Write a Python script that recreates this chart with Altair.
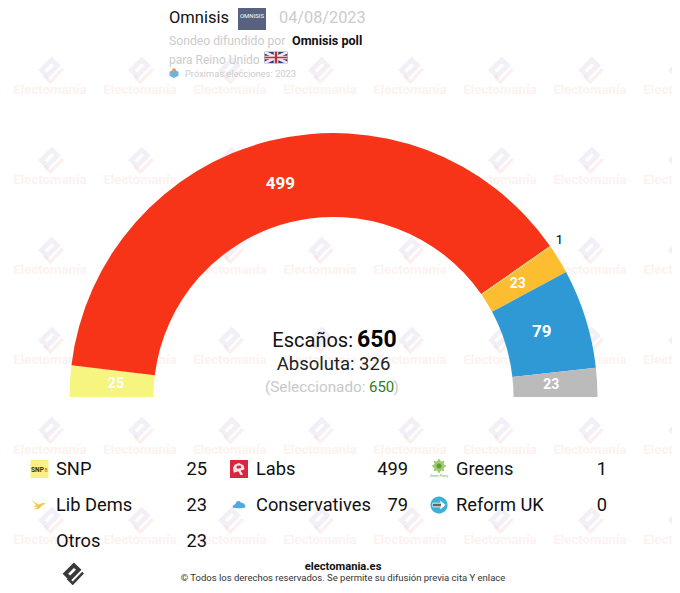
import math
import altair as alt
import pandas as pd

# --- chart values ---
arc_parties = ["SNP", "Labs", "Greens", "Lib Dems", "Conservatives", "Otros"]
arc_seats = [25, 499, 1, 23, 79, 23]
arc_colors = ["#F6F57F", "#F73418", "#A8D060", "#FDBD30", "#2F99D6", "#BBBBBB"]
legend_rows = [
    ["SNP", "Labs", "Greens"],
    ["Lib Dems", "Conservatives", "Reform UK"],
    ["Otros"],
]
legend_values = {"SNP": 25, "Labs": 499, "Greens": 1, "Lib Dems": 23,
                 "Conservatives": 79, "Reform UK": 0, "Otros": 23}
total_seats = 650
majority = 326

# --- layout / style ---
W, H = 664, 577
XS = alt.Scale(domain=[8, 8 + W], range=[0, W])
YS = alt.Scale(domain=[8, 8 + H], range=[0, H])
CX, CY, R_OUT, R_IN = 333.5, 397, 264, 180
FONT = "Roboto"
label_style = {  # radius, size
    "SNP": (218, 14), "Labs": (220, 17), "Greens": (275, 13),
    "Lib Dems": (216, 14), "Conservatives": (218, 17), "Otros": (218, 14),
}


def pos(x="x", y="y"):
    return dict(x=alt.X(f"{x}:Q", scale=XS, axis=None), y=alt.Y(f"{y}:Q", scale=YS, axis=None))


def shape(points, path, w, color, opacity=1.0):
    df = pd.DataFrame(points, columns=["x", "y"])
    return alt.Chart(df).mark_point(shape=path, filled=True, size=w * w, color=color,
                                    opacity=opacity, strokeWidth=0).encode(**pos())


def text(x, y, s, size=12, color="#000000", align="left", weight="normal", opacity=1.0):
    df = pd.DataFrame({"x": [x], "y": [y], "t": [s]})
    return alt.Chart(df).mark_text(font=FONT, fontSize=size, color=color, align=align, baseline="middle",
                                   fontWeight=weight, opacity=opacity).encode(text="t:N", **pos())


SQUARE = "M-1,-1L1,-1L1,1L-1,1Z"
CIRCLE = "M-1,0A1,1 0 1,1 1,0A1,1 0 1,1 -1,0Z"
LOGO_BODY = ("M0.12,-1L0.78,-0.36L-0.2,0.62L-0.86,-0.02Z"
             "M0.12,-0.52L-0.38,-0.02L-0.2,0.14L0.3,-0.36Z")
LOGO_TICK = "M0.84,-0.2L1,-0.04L0.02,0.98L-0.5,0.46L-0.34,0.3L0.02,0.66Z"
CLOUD = ("M-1,0.35C-1,0.05 -0.7,-0.05 -0.55,-0.1C-0.5,-0.6 0.05,-0.8 0.3,-0.35"
         "C0.7,-0.4 1,-0.05 1,0.35C0.5,0.55 -0.5,0.55 -1,0.35Z")
BIRD = ("M-1,-0.7L-0.1,-0.05L0.5,-0.3L1,-0.2L0.45,0.05L0.05,0.5L-0.75,0.65L-0.2,0.25L-0.9,0.2L-0.4,0.05Z")
BURST = "M0,-1L0.28,-0.6L0.71,-0.71L0.6,-0.28L1,0L0.6,0.28L0.71,0.71L0.28,0.6L0,1L-0.28,0.6L-0.71,0.71L-0.6,0.28L-1,0L-0.6,-0.28L-0.71,-0.71L-0.28,-0.6Z"
ROSE = "M0,-0.75L0.6,-0.45L0.75,0.1L0.2,0.3L0.55,0.8L0.2,0.85L-0.1,0.35L-0.7,0.55L-0.8,-0.1L-0.55,-0.55Z"
ROSE_IN = "M-0.3,-0.35L0.25,-0.4L0.35,-0.05L-0.1,0.1L-0.4,0Z"
BOX = "M-1,-0.4L0,-0.9L1,-0.4L1,0.5L0,1L-1,0.5Z"

layers = []

# --- watermark ---
cols = [50 + 90 * i for i in range(8)]
rows = [90 + 90 * i for i in range(6)]
wm_text = pd.DataFrame([{"x": c, "y": r, "t": "Electomanía"} for c in cols for r in rows])
layers.append(alt.Chart(wm_text).mark_text(font=FONT, fontSize=13.2, fontWeight="bold", color="#F9DAD2",
                                           opacity=0.34, baseline="middle").encode(text="t:N", **pos()))
wm_pts = [(c, r - 19.5) for c in cols for r in rows]
layers.append(shape(wm_pts, LOGO_BODY, 28, "#D9D2E6", 0.34))
layers.append(shape(wm_pts, LOGO_TICK, 28, "#F4CFD2", 0.34))

# --- hemicycle ---
cum = 0
mids = []
for s in arc_seats:
    mids.append(cum + s / 2)
    cum += s
arc_df = pd.DataFrame({"party": arc_parties, "seats": arc_seats, "color": arc_colors,
                       "idx": range(len(arc_seats)), "mid": mids})
arc_df["label_r"] = [label_style[p][0] for p in arc_parties]
arc_df["label_s"] = [label_style[p][1] for p in arc_parties]
tscale = alt.Scale(domain=[0, total_seats], range=[-math.pi / 2, math.pi / 2])
center = dict(x=alt.value(CX - 8), y=alt.value(CY - 8))
layers.append(alt.Chart(arc_df).mark_arc(radius=R_OUT, radius2=R_IN).encode(
    theta=alt.Theta("seats:Q", stack=True, scale=tscale), order=alt.Order("idx:Q"),
    color=alt.Color("color:N", scale=None), **center))
layers.append(alt.Chart(arc_df[arc_df.party != "Greens"]).mark_text(
    font=FONT, fontWeight="bold", baseline="middle", color="#FFFFFF").encode(
    theta=alt.Theta("mid:Q", stack=False, scale=tscale), radius=alt.Radius("label_r:Q", scale=None),
    text=alt.Text("seats:Q"), size=alt.Size("label_s:Q", scale=None), **center))
layers.append(alt.Chart(arc_df[arc_df.party == "Greens"]).mark_text(
    font=FONT, baseline="middle", color="#000000").encode(
    theta=alt.Theta("mid:Q", stack=False, scale=tscale), radius=alt.Radius("label_r:Q", scale=None),
    text=alt.Text("seats:Q"), size=alt.Size("label_s:Q", scale=None), **center))

# --- centre text ---
layers += [
    text(353, 341, "Escaños:", 20, "#111111", "right"),
    text(357, 340, str(total_seats), 23, "#000000", "left", "bold"),
    text(333.5, 364, f"Absoluta: {majority}", 18.5, "#222222", "center"),
    text(365.5, 387, "(Seleccionado:", 15.3, "#C8C8C8", "right"),
    text(369, 387, str(total_seats), 15, "#2E7D1E"),
    text(393.5, 387, ")", 15, "#C8C8C8"),
]

# --- header ---
layers += [
    text(169, 18, "Omnisis", 16.5, "#111111"),
    shape([(252, 16)], SQUARE, 28, "#56627F"),
    text(252, 16, "OMNISIS", 6, "#FFFFFF", "center"),
    text(279, 18, "04/08/2023", 16.3, "#CCCCCC"),
    text(169, 41, "Sondeo difundido por", 12.2, "#CCCCCC"),
    text(292, 41, "Omnisis poll", 12.6, "#111111", weight="bold"),
    text(169, 60, "para Reino Unido", 12, "#CCCCCC"),
    shape([(276, 57.5)], "M-1,-0.5L1,-0.5L1,0.5L-1,0.5Z", 23, "#2A3F7D"),
    shape([(276, 57.5)], "M-1,-0.5L-0.75,-0.5L1,0.35L1,0.5L0.75,0.5L-1,-0.35Z", 23, "#F2E9E9"),
    shape([(276, 57.5)], "M1,-0.5L0.75,-0.5L-1,0.35L-1,0.5L-0.75,0.5L1,-0.35Z", 23, "#F2E9E9"),
    shape([(276, 57.5)], "M-0.2,-0.5L0.2,-0.5L0.2,-0.15L1,-0.15L1,0.15L0.2,0.15L0.2,0.5L-0.2,0.5L-0.2,0.15L-1,0.15L-1,-0.15L-0.2,-0.15Z", 23, "#F2E9E9"),
    shape([(276, 57.5)], "M-0.1,-0.5L0.1,-0.5L0.1,-0.07L1,-0.07L1,0.07L0.1,0.07L0.1,0.5L-0.1,0.5L-0.1,0.07L-1,0.07L-1,-0.07L-0.1,-0.07Z", 23, "#C8283C"),
    shape([(174, 73.5)], BOX, 9, "#6FB3DA"),
    shape([(174, 70)], CIRCLE, 3.5, "#F0913A"),
    text(185, 73.5, "Próximas elecciones: 2023", 9.3, "#CCCCCC"),
]

# --- legend ---
col_name = [56, 256, 456]
col_val = [207, 408, 607]
row_y = [470, 506, 542]
for r, names in enumerate(legend_rows):
    for c, name in enumerate(names):
        layers.append(text(col_name[c], row_y[r], name, 18.3, "#111111"))
        layers.append(text(col_val[c], row_y[r], str(legend_values[name]), 18.3, "#111111", "right"))

layers += [
    shape([(39.5, 469)], SQUARE, 18, "#FBF082"),
    text(37.5, 469.5, "SNP", 6.5, "#333300", "center", "bold"),
    text(46, 469.5, "8", 6, "#777755", "center"),
    shape([(239, 469)], SQUARE, 18, "#D9253F"),
    shape([(239, 468.5)], ROSE, 15, "#FBE4E6"),
    shape([(239, 468)], ROSE_IN, 13, "#D9253F"),
    shape([(439, 466)], BURST, 15, "#9CCB6A"),
    shape([(439, 466)], CIRCLE, 5, "#5E9A3A"),
    text(439, 476, "Green Party", 3.5, "#5FAF4A", "center"),
    shape([(39, 505)], BIRD, 14, "#F9C24A"),
    shape([(239, 505)], CLOUD, 13, "#4FA8E0"),
    shape([(439, 505)], CIRCLE, 17, "#3BB0D8"),
    shape([(439, 505)], "M-1,-0.35L0.2,-0.35L0.2,-0.7L1,0L0.2,0.7L0.2,0.35L-1,0.35Z", 13, "#FFFFFF"),
    shape([(437, 505)], "M-1,-0.35L1,-0.35L1,0.35L-1,0.35Z", 8, "#666666"),
]

# --- footer ---
layers += [
    shape([(72.5, 574)], LOGO_BODY, 23, "#3A3A3A"),
    shape([(72.5, 574)], LOGO_TICK, 23, "#3A3A3A"),
    text(343, 566.5, "electomania.es", 11.2, "#111111", "center", "bold"),
    text(343, 577.5, "© Todos los derechos reservados. Se permite su difusión previa cita Y enlace", 9.5, "#333333", "center"),
]

chart = alt.layer(*layers).resolve_scale(color="independent").properties(
    width=W, height=H, padding=0, autosize=alt.AutoSizeParams(type="none")
).configure_view(stroke=None)

chart.save("out.html", embed_options={"renderer": "svg", "actions": False})
